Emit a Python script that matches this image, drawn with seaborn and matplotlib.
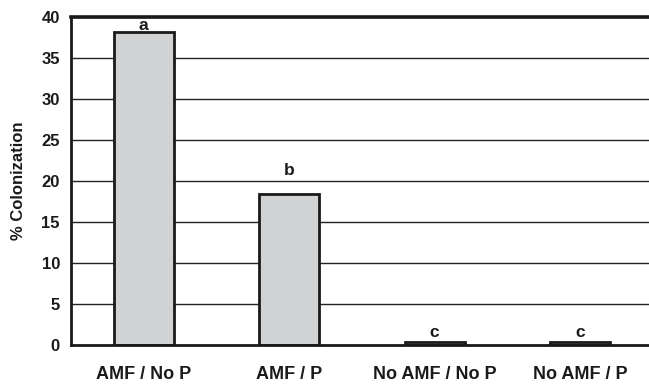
import matplotlib
matplotlib.use("Agg")
import matplotlib.pyplot as plt
import numpy as np
import pandas as pd
import seaborn as sns

# data
treatments = ["AMF / No P", "AMF / P", "No AMF / No P", "No AMF / P"]
colonization = [38.2, 18.4, 0.4, 0.4]
letters = ["a", "b", "c", "c"]
y_ticks = [0, 5, 10, 15, 20, 25, 30, 35, 40]

# gap between bar top and its letter (in axis units), as placed in the original
letter_gap = [0.25, 2.3, 0.6, 0.6]

df = pd.DataFrame({"Treatment": treatments, "Colonization": colonization})

sns.set_style("white")
plt.rcParams["font.family"] = ["Liberation Sans", "DejaVu Sans"]
plt.rcParams["font.weight"] = "bold"

fig = plt.figure(figsize=(6.49, 3.88), dpi=100)
ax = fig.add_axes([0.1094, 0.111, 0.8966, 0.845])

# grid lines behind bars
for yv in y_ticks[1:]:
    ax.axhline(yv, color="#222222", lw=1.0, zorder=0)

sns.barplot(
    data=df, x="Treatment", y="Colonization", ax=ax,
    color="#d1d2d4", edgecolor="#1a1a1a", linewidth=2.0,
    width=0.41, saturation=1, zorder=2,
)

for i, (v, t) in enumerate(zip(colonization, letters)):
    ax.text(i, v + letter_gap[i], t, ha="center", va="baseline", fontsize=12.5,
            fontweight="bold", color="#1a1a1a")

ax.set_xlim(-0.5, 3.5)
ax.set_ylim(0, 40)
ax.set_yticks(y_ticks)
ax.set_yticklabels([str(v) for v in y_ticks], fontsize=12, fontweight="bold")
ax.set_xticks(range(len(treatments)))
ax.set_xticklabels(treatments, fontsize=13, fontweight="bold")
ax.set_xticks([-0.5, 0.5, 1.5, 2.5], minor=True)
ax.tick_params(axis="x", which="major", length=0, pad=15, colors="#1a1a1a")
ax.tick_params(axis="x", which="minor", length=6, width=1.2, color="#1a1a1a")
ax.tick_params(axis="y", length=6, width=1.2, color="#1a1a1a", pad=2,
               labelcolor="#1a1a1a")

ax.set_xlabel("")
ax.set_ylabel("% Colonization", fontsize=12, fontweight="bold",
              color="#1a1a1a", labelpad=11)

for side in ["left", "bottom"]:
    ax.spines[side].set_linewidth(2.0)
    ax.spines[side].set_color("#1a1a1a")
ax.spines["top"].set_linewidth(2.6)
ax.spines["top"].set_color("#1a1a1a")
ax.spines["right"].set_visible(False)
for s in ax.spines.values():
    s.set_zorder(3)

fig.savefig("out.png", dpi=100)
